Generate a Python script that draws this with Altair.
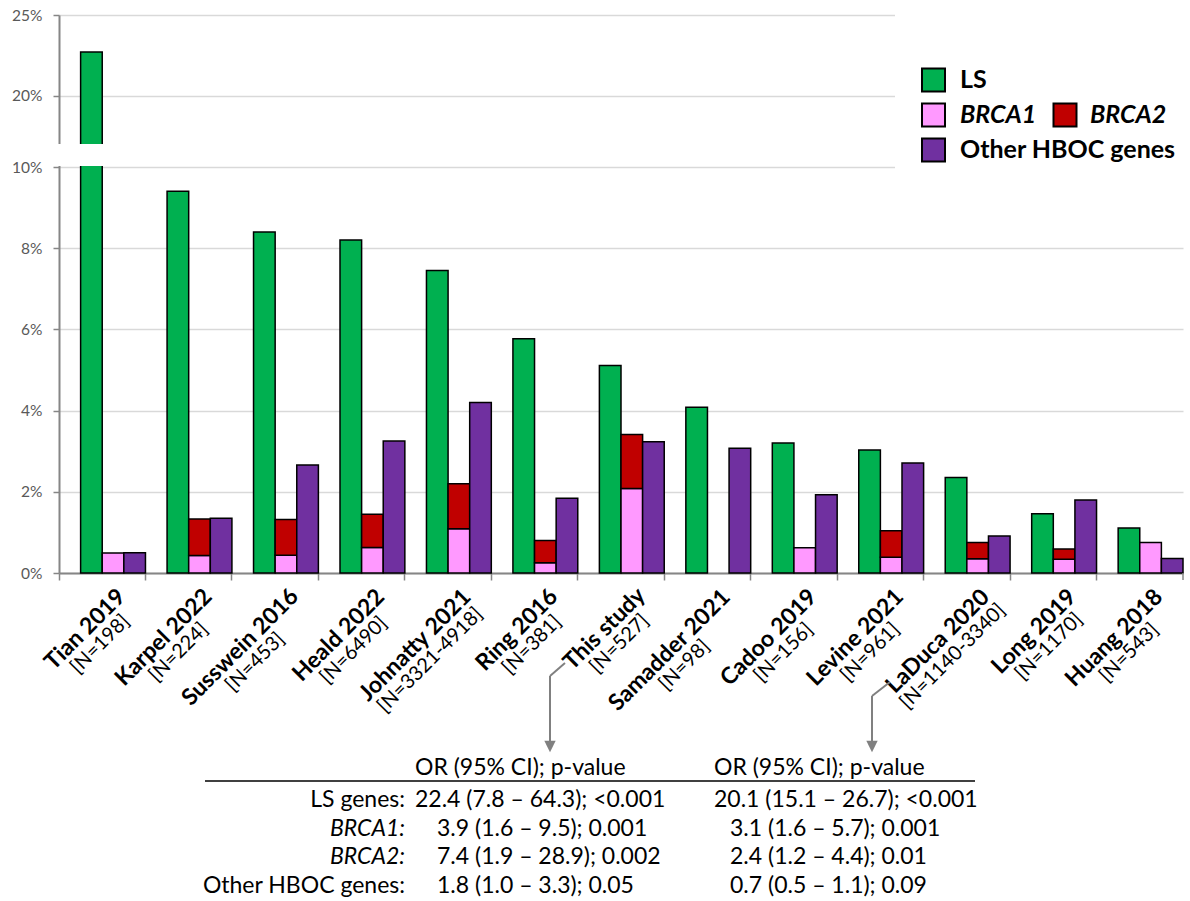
import altair as alt
import pandas as pd

# ---- data -----------------------------------------------------------------
studies = ["Tian 2019", "Karpel 2022", "Susswein 2016", "Heald 2022", "Johnatty 2021",
           "Ring 2016", "This study", "Samadder 2021", "Cadoo 2019", "Levine 2021",
           "LaDuca 2020", "Long 2019", "Huang 2018"]
cohort = ["[N=198]", "[N=224]", "[N=453]", "[N=6490]", "[N=3321-4918]", "[N=381]",
          "[N=527]", "[N=98]", "[N=156]", "[N=961]", "[N=1140-3340]", "[N=1170]", "[N=543]"]

# carrier frequencies, %
ls_pct = [22.7, 9.4, 8.4, 8.2, 7.45, 5.77, 5.11, 4.08, 3.2, 3.03, 2.35, 1.46, 1.11]
brca1_pct = [0.49, 0.43, 0.44, 0.63, 1.09, 0.25, 2.08, 0.0, 0.62, 0.39, 0.35, 0.34, 0.75]
brca2_pct = [0.0, 0.90, 0.88, 0.82, 1.11, 0.55, 1.33, 0.0, 0.0, 0.65, 0.40, 0.25, 0.0]
other_pct = [0.5, 1.35, 2.66, 3.25, 4.2, 1.84, 3.23, 3.07, 1.93, 2.71, 0.91, 1.80, 0.36]

series_names = ["LS", "BRCA1", "BRCA2", "Other HBOC genes"]
series_colors = ["#00B050", "#FF99FF", "#C00000", "#7030A0"]

y_ticks = [0, 2, 4, 6, 8, 10, 20, 25]

table_header = "OR (95% CI); p-value"
table_rows = ["LS genes:", "BRCA1:", "BRCA2:", "Other HBOC genes:"]
or_this_study = ["22.4 (7.8 – 64.3); <0.001", "3.9 (1.6 – 9.5); 0.001",
                 "7.4 (1.9 – 28.9); 0.002", "1.8 (1.0 – 3.3); 0.05"]
or_laduca = ["20.1 (15.1 – 26.7); <0.001", "3.1 (1.6 – 5.7); 0.001",
             "2.4 (1.2 – 4.4); 0.01", "0.7 (0.5 – 1.1); 0.09"]

# ---- long table of bar segments -------------------------------------------
rows = []
for i, s in enumerate(studies):
    segs = [
        ("LS", "LS", 0.0, ls_pct[i]),
        ("BRCA1", "BRCA", 0.0, brca1_pct[i]),
        ("BRCA2", "BRCA", brca1_pct[i], brca1_pct[i] + brca2_pct[i]),
        ("Other HBOC genes", "Other", 0.0, other_pct[i]),
    ]
    for name, slot, lo, hi in segs:
        if hi > lo:
            rows.append({"study": s, "series": name, "slot": slot, "lo": lo, "hi": hi})
bars_df = pd.DataFrame(rows)

FONT = "Lato"
AXIS_GREY = "#868686"

# broken y axis: 0-10 % in the lower part, 17-25 % in the upper part
y_scale = alt.Scale(domain=[0, 10, 17, 25], range=[573, 167, 144, 15], zero=False, nice=False)
x_scale = alt.Scale(domain=studies, paddingInner=0, paddingOuter=0)
x_axis = alt.Axis(title=None, labels=False, grid=False, bandPosition=0, tickSize=7,
                  tickColor=AXIS_GREY, tickWidth=1.5, domainColor=AXIS_GREY, domainWidth=2)
x_enc = alt.X("study:N", scale=x_scale, sort=studies, axis=x_axis)

bars = alt.Chart(bars_df).mark_bar(stroke="black", strokeWidth=1.5).encode(
    x=x_enc,
    xOffset=alt.XOffset("slot:N", scale=alt.Scale(domain=["gap", "LS", "BRCA", "Other"],
                                                  paddingInner=0, paddingOuter=0)),
    y=alt.Y("hi:Q", scale=y_scale,
            axis=alt.Axis(title=None, values=y_ticks, labelExpr="datum.value + '%'",
                          grid=True, gridColor="#d9d9d9", gridWidth=1.5,
                          domainColor=AXIS_GREY, domainWidth=2, tickColor=AXIS_GREY,
                          tickWidth=1.5, tickSize=6, labelPadding=11, labelFont=FONT,
                          labelFontSize=15.5, labelColor="#595959")),
    y2="lo:Q",
    color=alt.Color("series:N", scale=alt.Scale(domain=series_names, range=series_colors),
                    legend=None),
)

one = pd.DataFrame({"k": [0]})

# white band that cuts the axis and the tall bar at the break
gap = alt.Chart(one).mark_rect(color="white").encode(
    x=alt.value(-14), x2=alt.value(1124), y=alt.datum(10.3), y2=alt.datum(17))

# legend panel
legend_bg = alt.Chart(one).mark_rect(color="white").encode(
    x=alt.value(836), x2=alt.value(1131), y=alt.value(0), y2=alt.value(178))


def swatch(color, cx, cy):
    return alt.Chart(one).mark_square(size=529, stroke="black", strokeWidth=2,
                                      opacity=1, fill=color).encode(
        x=alt.value(cx), y=alt.value(cy))


def note(txt, x, y, **kw):
    style = dict(font=FONT, fontSize=23, color="black", align="left", baseline="middle")
    style.update(kw)
    return alt.Chart(pd.DataFrame({"t": [txt]})).mark_text(**style).encode(
        x=alt.value(x), y=alt.value(y), text="t:N")


legend_layers = [
    swatch(series_colors[0], 874.5, 80), note(series_names[0], 901, 80, fontWeight="bold", fontSize=25),
    swatch(series_colors[1], 874.5, 115), note(series_names[1], 901, 115, fontWeight="bold",
                                               fontStyle="italic", fontSize=25),
    swatch(series_colors[2], 1006, 115), note(series_names[2], 1031, 115, fontWeight="bold",
                                              fontStyle="italic", fontSize=25),
    swatch(series_colors[3], 874.5, 150), note(series_names[3], 901, 150, fontWeight="bold", fontSize=25),
]

# ---- rotated two-line category labels --------------------------------------
_w = {c: 0.58 for c in "0123456789="}
_w.update({" ": 0.193, "[": 0.29, "]": 0.29, "-": 0.34, ".": 0.24,
           "T": 0.56, "K": 0.65, "S": 0.52, "H": 0.75, "J": 0.39, "R": 0.61, "L": 0.49,
           "D": 0.74, "C": 0.66, "N": 0.75, "I": 0.28,
           "i": 0.23, "l": 0.23, "t": 0.34, "r": 0.35, "s": 0.41, "m": 0.84, "w": 0.76,
           "f": 0.3, "j": 0.23, "n": 0.55, "u": 0.55, "h": 0.55, "d": 0.55, "p": 0.55,
           "o": 0.55, "a": 0.49, "e": 0.51, "c": 0.46, "y": 0.49, "g": 0.5, "v": 0.49})

NAME_SIZE, N_SIZE = 23, 20


def text_width(s, size, bold=False):
    w = sum(_w.get(c, 0.62 if c.isupper() else 0.5) for c in s) * size
    return w * (1.04 if bold else 1.0)


label_layers = []
for s, n in zip(studies, cohort):
    block = max(text_width(s, NAME_SIZE, True), text_width(n, N_SIZE))
    d = pd.DataFrame({"study": [s], "name": [s], "n": [n]})
    label_layers.append(alt.Chart(d).mark_text(
        angle=315, align="center", baseline="alphabetic", dx=-block / 2, dy=35,
        font=FONT, fontWeight="bold", fontSize=NAME_SIZE, color="black").encode(
        x=x_enc, y=alt.datum(0), text="name:N"))
    label_layers.append(alt.Chart(d).mark_text(
        angle=315, align="center", baseline="alphabetic", dx=-block / 2, dy=55,
        font=FONT, fontSize=N_SIZE, color="black").encode(
        x=x_enc, y=alt.datum(0), text="n:N"))

# closing tick at the right end of the category axis
end_tick = alt.Chart(pd.DataFrame({"study": [studies[-1]]})).mark_rule(
    color=AXIS_GREY, strokeWidth=1.5).encode(
    x=alt.X("study:N", scale=x_scale, sort=studies, axis=x_axis, bandPosition=1),
    y=alt.datum(0), y2=alt.value(580))

# ---- leader arrows to the odds-ratio table ---------------------------------
ARROW = "#808080"


def seg(x1, y1, x2, y2):
    return alt.Chart(one).mark_rule(color=ARROW, strokeWidth=2).encode(
        x=alt.value(x1), y=alt.value(y1), x2=alt.value(x2), y2=alt.value(y2))


def head(cx, cy):
    return alt.Chart(one).mark_point(shape="M-1,-1L1,-1L0,1Z", size=130, filled=True,
                                     opacity=1, color=ARROW).encode(
        x=alt.value(cx), y=alt.value(cy))


arrow_layers = [
    seg(506, 663, 491, 676), seg(491, 676, 491, 744), head(491, 746.5),
    seg(831, 682, 813, 696), seg(813, 696, 813, 744), head(813, 746.5),
]

# ---- odds-ratio table -------------------------------------------------------
table_layers = [
    note(table_header, 356, 768),
    note(table_header, 655, 768),
    alt.Chart(one).mark_rule(color="black", strokeWidth=1.5).encode(
        x=alt.value(146), x2=alt.value(916), y=alt.value(781)),
]
row_y = [800, 828.5, 857, 886]
for k, lab in enumerate(table_rows):
    italic = lab.startswith("BRCA")
    table_layers.append(note(lab, 346, row_y[k], align="right",
                             fontStyle="italic" if italic else "normal"))
    table_layers.append(note(or_this_study[k], 356 if k == 0 else 378, row_y[k]))
    table_layers.append(note(or_laduca[k], 655 if k == 0 else 671, row_y[k]))

chart = alt.layer(
    bars, gap, legend_bg, *legend_layers, *label_layers, end_tick, *arrow_layers, *table_layers
).properties(
    width=1124, height=573,
    padding={"left": 59, "top": 0, "right": 7, "bottom": 328},
    autosize="none",
    background="white",
).configure_view(stroke=None)

chart.save("out.html", embed_options={"renderer": "svg", "actions": False})
